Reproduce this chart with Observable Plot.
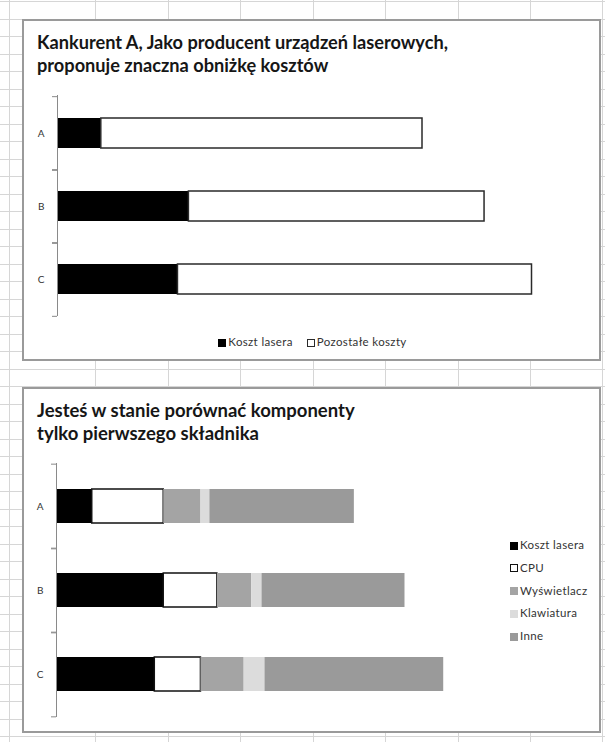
<!DOCTYPE html>
<html><head><meta charset="utf-8">
<script src="https://cdn.jsdelivr.net/npm/d3@7"></script>
<script src="https://cdn.jsdelivr.net/npm/@observablehq/plot@0.6"></script>
<style>
body{margin:0;background:#fff;font-family:Lato,"Open Sans",sans-serif;}
#page{position:relative;width:605px;height:742px;overflow:hidden;background:#fff;}
.gl{position:absolute;background:#d6d6d6;}
.box{position:absolute;background:#fff;border:2px solid #9a9a9a;box-sizing:border-box;}
.title{position:absolute;font-weight:700;line-height:23px;color:#161616;white-space:nowrap;}
.legend{position:absolute;font-size:11.5px;letter-spacing:0.35px;color:#333;white-space:nowrap;line-height:12px;}
.sw{display:inline-block;width:8px;height:8px;box-sizing:border-box;margin-right:2px;vertical-align:-0.5px;}
.plot{position:absolute;}
</style></head><body><div id="page"></div>
<script>
// ---- data ----
const categories = ["A", "B", "C"];
const title1 = ["Kankurent A, Jako producent urządzeń laserowych,", "proponuje znaczna obniżkę kosztów"];
const title2 = ["Jesteś w stanie porównać komponenty", "tylko pierwszego składnika"];
const topSeries = ["Koszt lasera", "Pozostałe koszty"];
const topLaser = [12, 36, 33];
const topOther = [88, 81, 97];
const botSeries = ["Koszt lasera", "CPU", "Wyświetlacz", "Klawiatura", "Inne"];
const botLaser = [12, 36, 33];
const botCPU = [24, 18, 15.5];
const botDisplay = [12.5, 11.5, 14.5];
const botKeyboard = [3, 3.5, 7];
const botOther = [48.5, 48, 60];

// ---- styles ----
const fills = {"Koszt lasera": "#000", "Pozostałe koszty": "#fff", "CPU": "#fff", "Wyświetlacz": "#a4a4a4", "Klawiatura": "#dcdcdc", "Inne": "#9a9a9a"};
const strokes = {"Koszt lasera": "none", "Pozostałe koszty": "#2a2a2a", "CPU": "#111", "Wyświetlacz": "none", "Klawiatura": "none", "Inne": "none"};

const page = document.getElementById("page");
function el(tag, cls, css, html) {
  const e = document.createElement(tag);
  if (cls) e.className = cls;
  Object.assign(e.style, css || {});
  if (html != null) e.innerHTML = html;
  return e;
}
// spreadsheet grid background
const colX = [9, 95, 168, 240, 313, 385, 458, 530, 602];
colX.forEach(x => page.appendChild(el("div", "gl", {left: x + "px", top: "0px", width: "1px", height: "742px"})));
for (let y = 1; y < 742; y += 17.5) page.appendChild(el("div", "gl", {left: "0px", top: Math.round(y) + "px", width: "605px", height: "1px"}));

function makeChart({series, values, width, height, mt, mb, ml, mr, xmax}) {
  const data = [];
  categories.forEach((c, i) => series.forEach((s, j) => data.push({cat: c, series: s, value: values[j][i]})));
  const step = (height - mt - mb) / categories.length;
  const pad = 0.59;
  return Plot.plot({
    width, height, marginTop: mt, marginBottom: mb, marginLeft: ml, marginRight: mr,
    style: {fontFamily: "Lato, sans-serif", fontSize: "10px", color: "#333", background: "transparent"},
    x: {domain: [0, xmax], axis: null},
    y: {domain: categories, paddingInner: pad, paddingOuter: pad / 2, axis: null},
    color: {type: "identity"},
    marks: [
      Plot.barX(data, {y: "cat", x: "value", fill: d => fills[d.series], stroke: d => strokes[d.series], strokeWidth: 1.5}),
      Plot.ruleX([0], {stroke: "#8a8a8a"}),
      Plot.axisY({tickSize: 5, text: null, label: null, dy: -step / 2, stroke: "#8a8a8a"}),
      Plot.axisY({tickSize: 5, text: null, label: null, dy: step / 2, stroke: "#8a8a8a"}),
      Plot.axisY({tickSize: 0, tickPadding: 13, label: null, fill: "#333", fontSize: 10})
    ]
  });
}
function addTitle(box, lines, size) {
  box.appendChild(el("div", "title", {left: "13px", top: "10px", fontSize: size + "px"}, lines.join("<br>")));
}
function legendItem(name) {
  const f = fills[name], s = strokes[name] === "none" ? f : strokes[name];
  const bw = strokes[name] === "none" ? "0" : "1.5px";
  return `<span class="sw" style="background:${f};border:${bw} solid ${s}"></span>${name}`;
}

// ---- top chart ----
const box1 = el("div", "box", {left: "22px", top: "19px", width: "579px", height: "342px"});
page.appendChild(box1);
addTitle(box1, title1, 18.2);
const p1 = makeChart({series: topSeries, values: [topLaser, topOther], width: 560, height: 250, mt: 15, mb: 14, ml: 34, mr: 15, xmax: 140});
p1.classList.add("plot");
Object.assign(p1.style, {left: "-1px", top: "59px"});
box1.appendChild(p1);
box1.appendChild(el("div", "legend", {left: "0px", width: "577px", textAlign: "center", top: "315px"},
  topSeries.map(legendItem).join('<span style="display:inline-block;width:14px"></span>')));

// ---- bottom chart ----
const box2 = el("div", "box", {left: "22px", top: "387px", width: "579px", height: "346px"});
page.appendChild(box2);
addTitle(box2, title2, 18.5);
const p2 = makeChart({series: botSeries, values: [botLaser, botCPU, botDisplay, botKeyboard, botOther], width: 460, height: 280, mt: 13, mb: 13, ml: 33, mr: 10, xmax: 140});
p2.classList.add("plot");
Object.assign(p2.style, {left: "-1px", top: "61px"});
box2.appendChild(p2);
const leg2 = el("div", "legend", {left: "486px", top: "145px", lineHeight: "22.8px"},
  botSeries.map(legendItem).join("<br>"));
box2.appendChild(leg2);
</script></body></html>
